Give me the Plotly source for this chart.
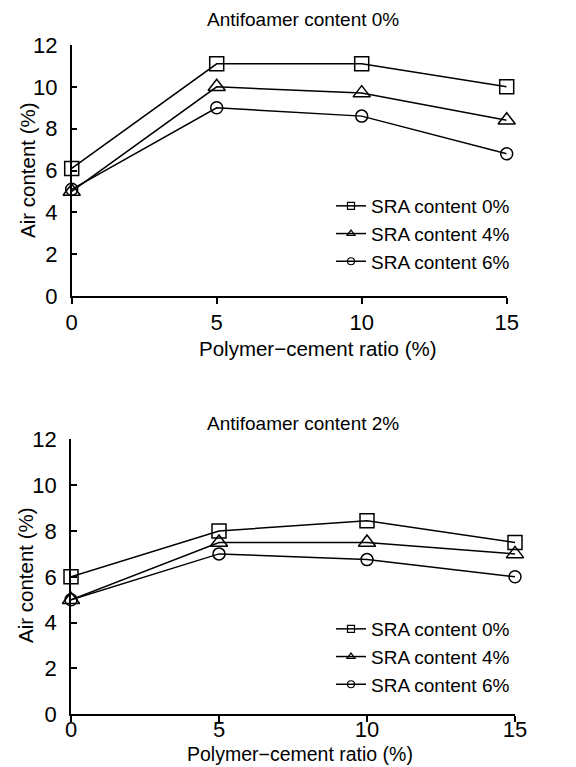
import plotly.graph_objects as go

# ---- data ----
pc_ratio = [0, 5, 10, 15]
series_names = ["SRA content 0%", "SRA content 4%", "SRA content 6%"]
top_sra0 = [6.1, 11.1, 11.1, 10.0]
top_sra4 = [5.0, 10.0, 9.7, 8.4]
top_sra6 = [5.1, 9.0, 8.6, 6.8]
bot_sra0 = [6.0, 8.0, 8.45, 7.5]
bot_sra4 = [5.0, 7.5, 7.5, 7.0]
bot_sra6 = [5.0, 7.0, 6.75, 6.0]
panel_titles = ["Antifoamer content 0%", "Antifoamer content 2%"]
x_title = "Polymer\u2212cement ratio (%)"
y_title = "Air content (%)"

W, H = 576, 767
FONT = "Liberation Sans, Arial, sans-serif"
symbols = ["square-open", "triangle-up-open", "circle-open"]
sizes = [14, 15, 12]

fig = go.Figure()

panels = [
    dict(data=[top_sra0, top_sra4, top_sra6], xa="x", ya="y", leg="legend"),
    dict(data=[bot_sra0, bot_sra4, bot_sra6], xa="x2", ya="y2", leg="legend2"),
]
for p in panels:
    for i, vals in enumerate(p["data"]):
        fig.add_trace(go.Scatter(
            x=pc_ratio, y=vals, mode="lines+markers", xaxis=p["xa"], yaxis=p["ya"],
            line=dict(color="black", width=1.5),
            marker=dict(symbol=symbols[i], size=sizes[i], color="black",
                        line=dict(color="black", width=1.5)),
            cliponaxis=False, showlegend=False))
        # legend entry with small marker
        fig.add_trace(go.Scatter(
            x=[None], y=[None], mode="lines+markers", xaxis=p["xa"], yaxis=p["ya"],
            name=series_names[i], legend=p["leg"], legendgroup=p["leg"] + str(i),
            line=dict(color="black", width=1.5),
            marker=dict(symbol=symbols[i], size=7, color="black",
                        line=dict(color="black", width=1.2))))

def px2fx(px):
    return px / W

def py2fy(py):
    return (H - py) / H

axis_common = dict(showline=True, linecolor="black", linewidth=1.5, showgrid=False,
                   zeroline=False, tickfont=dict(family=FONT, size=22, color="black"),
                   ticklen=6, tickwidth=1.5, tickcolor="black", automargin=False)

leg_font = dict(family=FONT, size=19, color="black")
fig.update_layout(
    width=W, height=H, margin=dict(l=0, r=0, t=0, b=0),
    paper_bgcolor="white", plot_bgcolor="white",
    font=dict(family=FONT, color="black"),
    xaxis=dict(domain=[px2fx(71.7), px2fx(506.7)], range=[0, 15], dtick=5, ticks="outside",
               anchor="y", ticklabelstandoff=0, **axis_common),
    yaxis=dict(domain=[py2fy(296), py2fy(45)], range=[0, 12], dtick=2, ticks="inside",
               anchor="x", ticklabelstandoff=8, **axis_common),
    xaxis2=dict(domain=[px2fx(71), px2fx(515)], range=[0, 15], dtick=5, ticks="outside",
                anchor="y2", ticklabelstandoff=-11, **axis_common),
    yaxis2=dict(domain=[py2fy(714.3), py2fy(439.3)], range=[0, 12], dtick=2, ticks="inside",
                anchor="x2", ticklabelstandoff=8, **axis_common),
    legend=dict(x=px2fx(331), y=py2fy(187), xanchor="left", yanchor="top",
                font=leg_font, bgcolor="rgba(0,0,0,0)",
                tracegroupgap=0, itemwidth=30),
    legend2=dict(x=px2fx(331), y=py2fy(610), xanchor="left", yanchor="top",
                 font=leg_font, bgcolor="rgba(0,0,0,0)",
                 tracegroupgap=0, itemwidth=30),
)

ann = []
ann.append(dict(text=panel_titles[0], x=px2fx(303), y=py2fy(20)))
ann.append(dict(text=panel_titles[1], x=px2fx(303), y=py2fy(423)))
for a in ann:
    a.update(xref="paper", yref="paper", showarrow=False, xanchor="center", yanchor="middle",
             font=dict(family=FONT, size=19, color="black"))
titles = [
    dict(text=x_title, x=px2fx(318), y=py2fy(348), size=20.5, yanchor="middle"),
    dict(text=x_title, x=px2fx(300), y=py2fy(766.5), size=19.5, yanchor="bottom"),
    dict(text=y_title, x=px2fx(27), y=py2fy(170), textangle=-90, size=20.5, yanchor="middle"),
    dict(text=y_title, x=px2fx(25), y=py2fy(575), textangle=-90, size=20.5, yanchor="middle"),
]
for t in titles:
    s = t.pop("size")
    t.update(xref="paper", yref="paper", showarrow=False, xanchor="center",
             font=dict(family=FONT, size=s, color="black"))
fig.update_layout(annotations=ann + titles)

fig.write_html("out.html", config={"displayModeBar": False},
               post_script="document.body.style.margin='0';document.body.style.padding='0';")
